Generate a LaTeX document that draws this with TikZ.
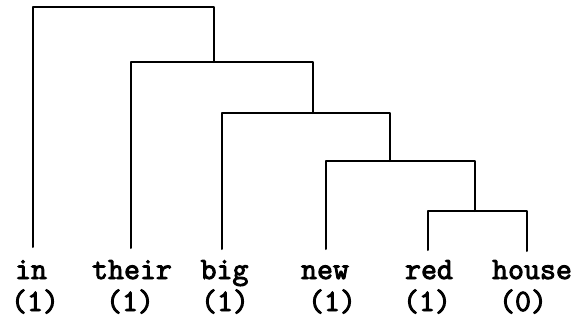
\documentclass[tikz,border=0pt]{standalone}
\usepackage{fontspec}
\newfontfamily\tw{Latin Modern Mono}[FakeBold=3]
\begin{document}
\begin{tikzpicture}[x=1pt,y=-1pt,
  branch/.style={line width=2pt, line join=round, line cap=round},
  word/.style={font=\tw\fontsize{31}{36}\selectfont, inner sep=0pt, anchor=base},
  count/.style={font=\tw\fontsize{31}{36}\selectfont, inner sep=0pt, anchor=base}]
\useasboundingbox (0,0) rectangle (579,324);
% words
\node[word] (w1) at (31,279) {in};
\node[word] (w2) at (132,279) {their};
\node[word] (w3) at (224.5,279) {big};
\node[word] (w4) at (325,279) {new};
\node[word] (w5) at (429,279) {red};
\node[word] (w6) at (532,279) {house};
% counts
\node[count] (n1) at (35,311) {(1)};
\node[count] (n2) at (130,311) {(1)};
\node[count] (n3) at (225,311) {(1)};
\node[count] (n4) at (332,311) {(1)};
\node[count] (n5) at (427,311) {(1)};
\node[count] (n6) at (523,311) {(0)};
% leaf tops
\coordinate (a1) at (33,247);
\coordinate (a2) at (131,248);
\coordinate (a3) at (222,249);
\coordinate (a4) at (326,249);
\coordinate (a5) at (428,250);
\coordinate (a6) at (527,251);
% junctions
\coordinate (c1) at (214,7);
\coordinate (c2) at (214,62);
\coordinate (c3) at (313,62);
\coordinate (c4) at (313,113);
\coordinate (c5) at (390,113);
\coordinate (c6) at (390,161);
\coordinate (c7) at (475,161);
\coordinate (c8) at (475,211);
\coordinate (c9) at (527,211);
\draw[branch] (a1) |- (c1) -- (c2);
\draw[branch] (a2) |- (c3) -- (c4);
\draw[branch] (a3) |- (c5) -- (c6);
\draw[branch] (a4) |- (c7) -- (c8);
\draw[branch] (a5) |- (c9) -- (a6);
\end{tikzpicture}
\end{document}
